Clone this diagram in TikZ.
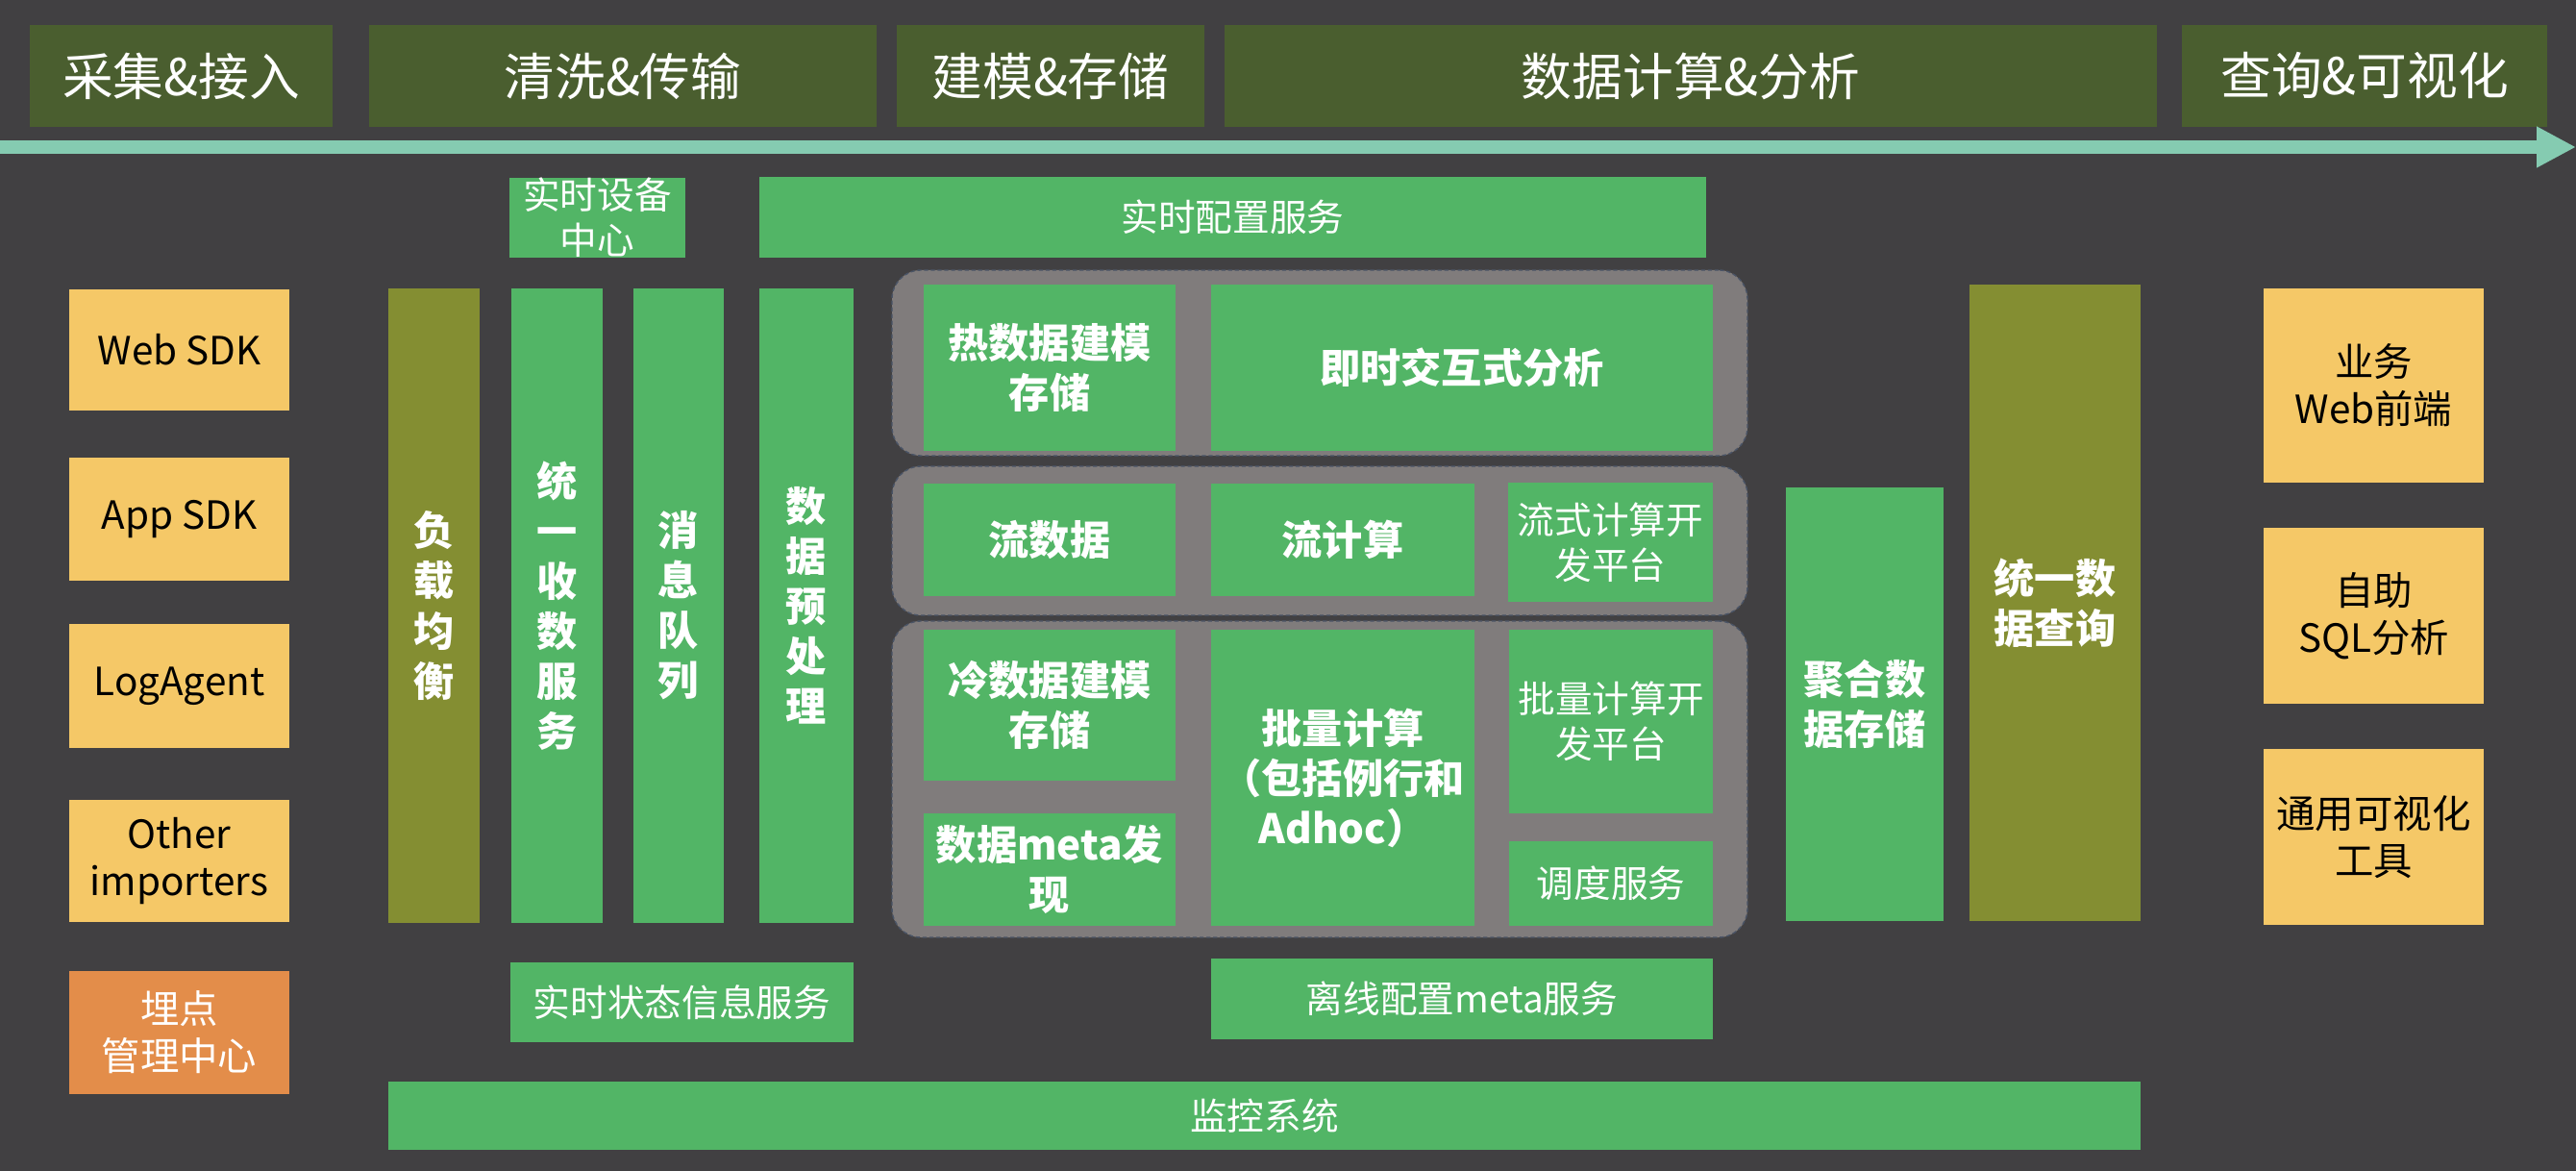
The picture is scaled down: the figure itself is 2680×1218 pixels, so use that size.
\documentclass[tikz,border=0pt]{standalone}
\usepackage{fontspec}
\setmainfont{Noto Sans CJK SC}
\usetikzlibrary{arrows.meta}
\definecolor{bgGray}{HTML}{414042}
\definecolor{hdrFill}{HTML}{4A5E2F}
\definecolor{flowFill}{HTML}{85CBB1}
\definecolor{svcFill}{HTML}{52B566}
\definecolor{lbFill}{HTML}{848E32}
\definecolor{srcFill}{HTML}{F5C867}
\definecolor{mgmtFill}{HTML}{E38D4A}
\definecolor{grpFill}{HTML}{807C7C}
\definecolor{grpLine}{HTML}{4A5466}
\tikzset{
  hdr/.style={fill=hdrFill, text=white, inner sep=0pt, minimum height=10.6mm,
              font=\fontsize{15}{18}\selectfont},
  gbox/.style={fill=svcFill, text=white, inner sep=0pt, align=center,
               font=\fontsize{12}{14.8}\selectfont\bfseries},
  gthin/.style={gbox, font=\fontsize{11}{13.4}\selectfont},
  obox/.style={gbox, fill=lbFill},
  ybox/.style={fill=srcFill, text=black, inner sep=0pt, align=center,
               minimum width=22.9mm, font=\fontsize{11.5}{14}\selectfont},
  pbox/.style={ybox, fill=mgmtFill, text=white},
  grp/.style={fill=grpFill, draw=grpLine, line width=0.4pt, dash pattern=on 1.2pt off 0.8pt,
              rounded corners=3mm, inner sep=0pt},
}
\begin{document}
\begin{tikzpicture}[x=0.1mm,y=-0.1mm]
\fill[bgGray] (0,0) rectangle (2680,1218);
\useasboundingbox (0,0) rectangle (2680,1218);
% stage headers
\node[hdr, minimum width=31.5mm] (hCollect) at (188.5,79) {采集\&接入};
\node[hdr, minimum width=52.8mm] (hClean)   at (648,79)   {清洗\&传输};
\node[hdr, minimum width=32.0mm] (hModel)   at (1093,79)  {建模\&存储};
\node[hdr, minimum width=97.0mm] (hCompute) at (1759,79)  {数据计算\&分析};
\node[hdr, minimum width=38.0mm] (hQuery)   at (2460,79)  {查询\&可视化};
% flow arrow
\coordinate (flowStart) at (0,153);
\coordinate (flowEnd) at (2680,153);
\draw[flowFill, line width=1.4mm, -{Triangle[length=4.1mm,width=4.0mm]}] (flowStart) -- (flowEnd);
% sources
\node[ybox, minimum height=12.6mm] (webSdk)   at (186.5,364)   {Web SDK};
\node[ybox, minimum height=12.8mm] (appSdk)   at (186.5,540)   {App SDK};
\node[ybox, minimum height=12.9mm] (logAgent) at (186.5,713.5) {LogAgent};
\node[ybox, minimum height=12.7mm] (otherImp) at (186.5,895.5) {Other\\importers};
\node[pbox, minimum height=12.8mm] (trackMgr) at (186.5,1074)  {埋点\\管理中心};
% top services
\node[gthin, minimum width=18.3mm, minimum height=8.3mm] (devCenter) at (621.5,226.5) {实时设备\\中心};
\node[gthin, minimum width=98.5mm, minimum height=8.4mm] (rtConfig)  at (1282.5,226) {实时配置服务};
% vertical columns
\node[obox, minimum width=9.5mm, minimum height=66mm] (loadBal) at (451.5,630) {负\\载\\均\\衡};
\node[gbox, minimum width=9.5mm, minimum height=66mm] (collect) at (579.5,630) {统\\一\\收\\数\\服\\务};
\node[gbox, minimum width=9.4mm, minimum height=66mm] (msgQueue) at (706,630) {消\\息\\队\\列};
\node[gbox, minimum width=9.8mm, minimum height=66mm] (preProc) at (839,630) {数\\据\\预\\处\\理};
% groups
\node[grp, minimum width=89.0mm, minimum height=19.3mm] (hotGrp)    at (1373,377.5) {};
\node[grp, minimum width=89.0mm, minimum height=15.5mm] (streamGrp) at (1373,562.5) {};
\node[grp, minimum width=89.0mm, minimum height=32.9mm] (batchGrp)  at (1373,810.5) {};
% hot path
\node[gbox, minimum width=26.2mm, minimum height=17.3mm] (hotStore) at (1092,382.5) {热数据建模\\存储};
\node[gbox, minimum width=52.2mm, minimum height=17.3mm] (adhoc)    at (1521,382.5) {即时交互式分析};
% stream path
\node[gbox, minimum width=26.2mm, minimum height=11.7mm] (streamData) at (1092,561.5) {流数据};
\node[gbox, minimum width=27.4mm, minimum height=11.7mm] (streamComp) at (1397,561.5) {流计算};
\node[gthin, minimum width=21.3mm, minimum height=12.4mm] (streamDev) at (1675.5,564) {流式计算开\\发平台};
% batch path
\node[gbox, minimum width=26.2mm, minimum height=15.7mm] (coldStore) at (1092,733.5) {冷数据建模\\存储};
\node[gbox, minimum width=26.2mm, minimum height=11.7mm] (metaFind)  at (1092,904.5) {数据meta发\\现};
\node[gbox, minimum width=27.4mm, minimum height=30.8mm] (batchComp) at (1397,809) {批量计算\\（包括例行和\\Adhoc）};
\node[gthin, minimum width=21.2mm, minimum height=19.1mm] (batchDev) at (1676,750.5) {批量计算开\\发平台};
\node[gthin, minimum width=21.2mm, minimum height=8.8mm]  (sched)    at (1676,919) {调度服务};
% bottom services
\node[gthin, minimum width=35.7mm, minimum height=8.3mm] (rtState)  at (709.5,1042.5) {实时状态信息服务};
\node[gthin, minimum width=52.2mm, minimum height=8.4mm] (offMeta)  at (1521,1039) {离线配置meta服务};
\node[gthin, minimum width=182.3mm, minimum height=7.1mm] (monitor) at (1315.5,1160.5) {监控系统};
% storage and query
\node[gbox, minimum width=16.4mm, minimum height=45.1mm] (aggStore) at (1940,732.5) {聚合数\\据存储};
\node[obox, minimum width=17.8mm, minimum height=66.2mm] (uniQuery) at (2138,627) {统一数\\据查询};
% consumers
\node[ybox, minimum height=20.2mm] (bizWeb)  at (2469.5,401)   {业务\\Web前端};
\node[ybox, minimum height=18.3mm] (selfSql) at (2469.5,640.5) {自助\\SQL分析};
\node[ybox, minimum height=18.3mm] (visTool) at (2469.5,870.5) {通用可视化\\工具};
\end{tikzpicture}
\end{document}
